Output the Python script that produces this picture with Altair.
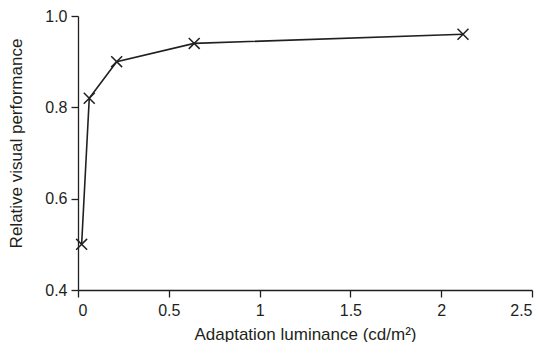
import altair as alt
import pandas as pd

luminance = [0.02, 0.062, 0.213, 0.64, 2.12]
performance = [0.50, 0.82, 0.90, 0.94, 0.96]

df = pd.DataFrame({"lum": luminance, "perf": performance})

ink = "#231f20"
font = "Liberation Sans"

x = alt.X("lum:Q", scale=alt.Scale(domain=[0, 2.5], nice=False, zero=False),
          axis=alt.Axis(values=[0, 0.5, 1, 1.5, 2, 2.5], labelExpr="format(datum.value, '')",
                        title="Adaptation luminance (cd/m²)", titlePadding=8, labelPadding=5))
y = alt.Y("perf:Q", scale=alt.Scale(domain=[0.4, 1.0], nice=False, zero=False),
          axis=alt.Axis(values=[0.4, 0.6, 0.8, 1.0], format=".1f",
                        title="Relative visual performance", titleX=-53, titleY=127,
                        labelPadding=4))

line = alt.Chart(df).mark_line(color=ink, strokeWidth=1.6).encode(x=x, y=y)
pts = alt.Chart(df).mark_point(shape="M-1,-1L1,1M1,-1L-1,1", size=120, color=ink,
                               strokeWidth=1.5, filled=False, opacity=1).encode(x=x, y=y)

chart = (line + pts).properties(
    width=454, height=274,
    autosize=alt.AutoSizeParams(type="none"),
    padding={"left": 70, "top": 8, "right": 5, "bottom": 52},
).configure_view(stroke=None).configure_axis(
    grid=False, domainColor=ink, tickColor=ink, labelColor=ink, titleColor=ink,
    labelFont=font, titleFont=font, labelFontSize=16, titleFontSize=17,
    titleFontWeight="normal", tickSize=7, domainWidth=1.3, tickWidth=1.3,
    labelOverlap=False, labelBound=False,
)

chart.save("out.html", embed_options={"renderer": "svg", "actions": False})
